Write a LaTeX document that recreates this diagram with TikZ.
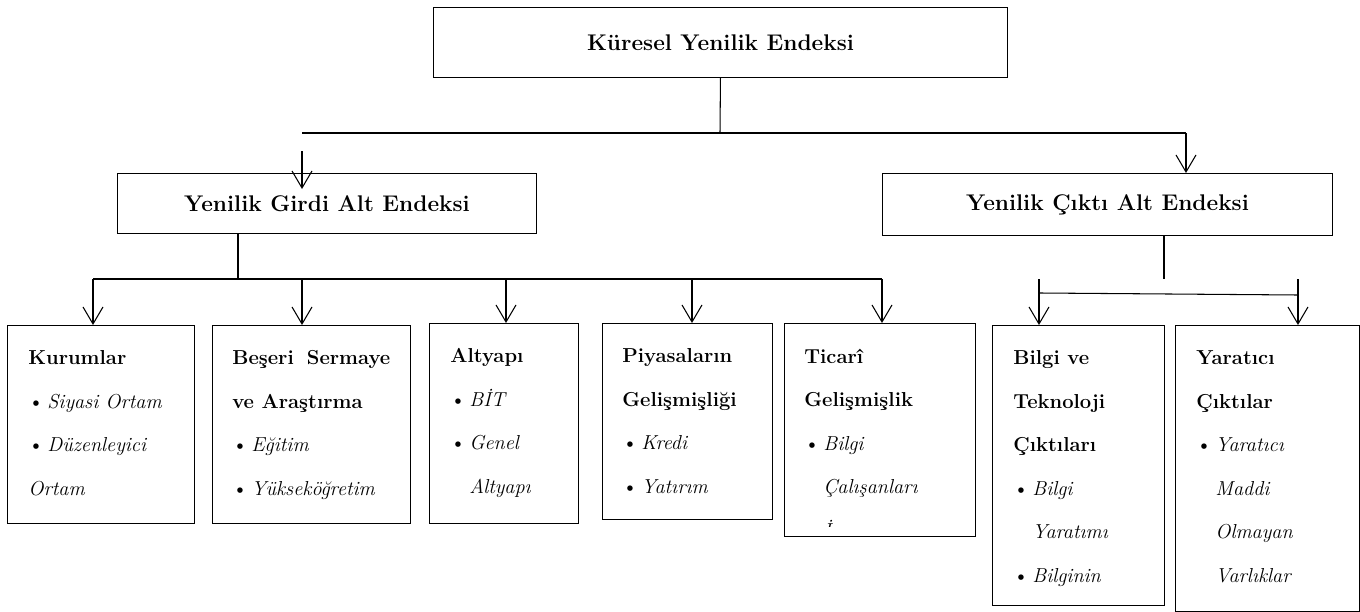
\documentclass[tikz,border=0pt]{standalone}
\usepackage{fontspec}
\usetikzlibrary{arrows.meta,positioning}
\tikzset{
  indexbox/.style={draw=black,line width=0.6pt,inner sep=0pt,anchor=north west,
                   align=center,font=\bfseries\fontsize{12.9}{15}\selectfont},
  pillarbox/.style={draw=black,line width=0.6pt,inner sep=0pt,anchor=north west},
  pillartext/.style={anchor=north west,inner sep=0pt,align=left,
                     font=\fontsize{11.5}{24.75}\selectfont,
                     execute at begin node=\rule{0pt}{10pt}},
  flowarr/.style={-{Straight Barb[length=3.4mm,width=4mm,line width=0.6pt]},line width=0.6pt},
  plainline/.style={line width=0.6pt}
}
\newcommand{\pitem}[1]{\makebox[3.8mm][l]{\textbullet}\textit{#1}}
\newcommand{\pcont}[1]{\hspace*{3.8mm}\textit{#1}}

\begin{document}
\begin{tikzpicture}[x=0.02cm,y=-0.02cm]
  \useasboundingbox (0,0) rectangle (1360,612);
  % index boxes
  \node[indexbox,minimum width=11.48cm,minimum height=1.4cm] (top) at (433,7) {K\"uresel Yenilik Endeksi};
  \node[indexbox,minimum width=8.38cm,minimum height=1.2cm] (inbox) at (117,173) {Yenilik Girdi Alt Endeksi};
  \node[indexbox,minimum width=9cm,minimum height=1.24cm] (outbox) at (882,173) {Yenilik Çıktı Alt Endeksi};

  % pillar boxes
  \node[pillarbox,minimum width=3.74cm,minimum height=3.96cm] (kur) at (7,325) {};
  \node[pillarbox,minimum width=3.96cm,minimum height=3.96cm] (bes) at (212,325) {};
  \node[pillarbox,minimum width=2.98cm,minimum height=4cm] (alt) at (429,323) {};
  \node[pillarbox,minimum width=3.4cm,minimum height=3.92cm] (piy) at (602,323) {};
  \node[pillarbox,minimum width=3.82cm,minimum height=4.26cm] (tic) at (784,323) {};
  \node[pillarbox,minimum width=3.44cm,minimum height=5.6cm] (bil) at (992,325) {};
  \node[pillarbox,minimum width=3.68cm,minimum height=5.72cm] (yar) at (1175,325) {};

  % first baseline about 43px under each box top
  \node[pillartext] (kurT) at (28,350.4) {\textbf{Kurumlar}\\ \pitem{Siyasi Ortam}\\ \pitem{Düzenleyici}\\ \textit{Ortam}};
  \node[pillartext] (besT) at (232,350.4) {\hbox to 3.16cm{\textbf{Beşeri}\hfill\textbf{Sermaye}}\\ \textbf{ve Araştırma}\\ \pitem{Eğitim}\\ \pitem{Yükseköğretim}};
  \node[pillartext] (altT) at (450,348.4) {\textbf{Altyapı}\\ \pitem{BİT}\\ \pitem{Genel}\\ \pcont{Altyapı}};
  \node[pillartext] (piyT) at (622,348.4) {\textbf{Piyasaların}\\ \textbf{Gelişmişliği}\\ \pitem{Kredi}\\ \pitem{Yatırım}};
  \begin{scope}
    \clip (784,323) rectangle (975,526);
    \node[pillartext] (ticT) at (804,348.4) {\textbf{Ticarî}\\ \textbf{Gelişmişlik}\\ \pitem{Bilgi}\\ \pcont{Çalışanları}\\ \pcont{İ}};
  \end{scope}
  \node[pillartext] (bilT) at (1013,350.4) {\textbf{Bilgi ve}\\ \textbf{Teknoloji}\\ \textbf{Çıktıları}\\ \pitem{Bilgi}\\ \pcont{Yaratımı}\\ \pitem{Bilginin}};
  \node[pillartext] (yarT) at (1196,350.4) {\textbf{Yaratıcı}\\ \textbf{Çıktılar}\\ \pitem{Yaratıcı}\\ \pcont{Maddi}\\ \pcont{Olmayan}\\ \pcont{Varlıklar}};

  % top level split
  \coordinate (hub) at (720,133);
  \coordinate (hl) at (302,133);
  \coordinate (hr) at (1186,133);
  \draw[plainline] (top.south) -- (hub);
  \draw[plainline] (hl) -- (hr);
  \draw[flowarr] (hr) -- (hr |- outbox.north);
  \coordinate (gs) at (302,151);
  \coordinate (ge) at (302,189);
  \draw[flowarr] (gs) -- (ge);

  % input pillars
  \coordinate (ib) at (238,279);
  \draw[plainline] (ib |- inbox.south) -- (ib);
  \coordinate (b1) at (93,279);
  \coordinate (b2) at (302,279);
  \coordinate (b3) at (506,279);
  \coordinate (b4) at (692,279);
  \coordinate (b5) at (882,279);
  \draw[plainline] (b1) -- (b5);
  \foreach \b/\n in {b1/kur,b2/bes,b3/alt,b4/piy,b5/tic}
    \draw[flowarr] (\b) -- (\b |- \n.north);

  % output pillars
  \coordinate (ob) at (1164,279);
  \draw[plainline] (ob |- outbox.south) -- (ob);
  \coordinate (c1) at (1039,279);
  \coordinate (c2) at (1298,279);
  \coordinate (cl) at (1040,293);
  \coordinate (cr) at (1298,295);
  \draw[plainline] (cl) -- (cr);
  \draw[flowarr] (c1) -- (c1 |- bil.north);
  \draw[flowarr] (c2) -- (c2 |- yar.north);
\end{tikzpicture}
\end{document}
